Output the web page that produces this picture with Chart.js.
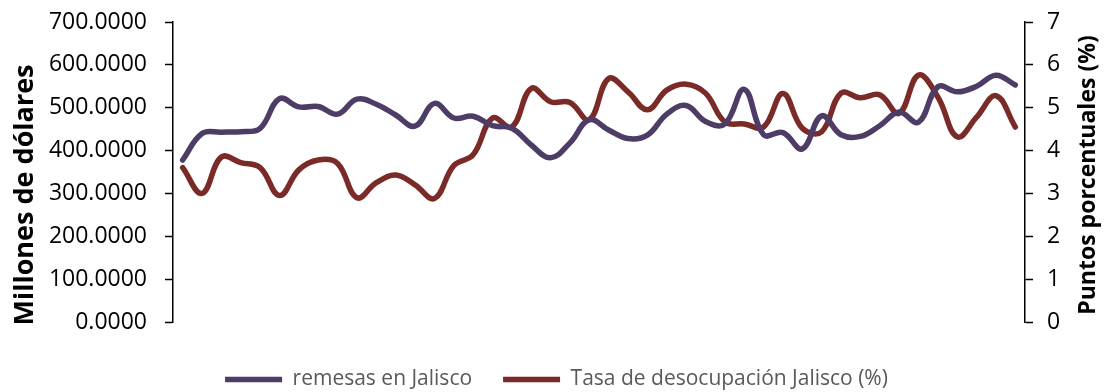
<!DOCTYPE html>
<html lang="es">
<head>
<meta charset="utf-8">
<title>Remesas y desocupación en Jalisco</title>
<script src="https://cdn.jsdelivr.net/npm/chart.js@4/dist/chart.umd.min.js"></script>
<style>
    html, body { margin: 0; padding: 0; background: #ffffff; }
    #wrap { width: 1106px; height: 392px; }
</style>
</head>
<body>
<div id="wrap"><canvas id="grafica" width="1106" height="392"></canvas></div>
<script>
// trimestres (no se muestran en el eje)
var periodos = [];
for (var anio = 2005; anio <= 2015; anio++) {
    ['T1', 'T2', 'T3', 'T4'].forEach(function (t) { periodos.push(t + ' ' + anio); });
}

// remesas en Jalisco (millones de dólares)
var remesas = [378, 440, 443, 444, 452, 521, 502, 503, 485, 520, 508, 483, 457, 510, 476,
    480, 458, 452, 413, 383, 418, 472, 448, 428, 436, 485, 505, 468, 462, 543,
    437, 442, 404, 481, 437, 433, 458, 490, 466, 549, 537, 550, 576, 553];

// tasa de desocupación Jalisco (%)
var desocupacion = [3.6, 3.0, 3.85, 3.72, 3.6, 2.95, 3.55, 3.78, 3.7, 2.9, 3.25, 3.43, 3.2, 2.88, 3.65,
    3.9, 4.76, 4.55, 5.45, 5.14, 5.12, 4.72, 5.68, 5.37, 4.95, 5.41, 5.55, 5.34, 4.67, 4.62,
    4.55, 5.33, 4.52, 4.44, 5.34, 5.23, 5.3, 4.87, 5.76, 5.25, 4.32, 4.78, 5.28, 4.55];

var ticksIzq = [0, 100, 200, 300, 400, 500, 600, 700];
var ticksDer = [0, 1, 2, 3, 4, 5, 6, 7];

var tituloIzq = 'Millones de dólares';
var tituloDer = 'Puntos porcentuales (%)';

var fuente = "'Open Sans', sans-serif";

// títulos de los ejes, los dos girados hacia arriba como en Excel
var titulosEjes = {
    id: 'titulosEjes',
    afterDraw: function (chart) {
        var c = chart.ctx;
        var area = chart.chartArea;
        var medio = (area.top + area.bottom) / 2;
        c.save();
        c.fillStyle = '#000000';
        c.textAlign = 'center';
        c.textBaseline = 'middle';

        c.save();
        c.translate(chart.scales.y.left + 18, medio + 23);
        c.rotate(-Math.PI / 2);
        c.font = 'bold 27px ' + fuente;
        c.fillText(tituloIzq, 0, 0);
        c.restore();

        c.save();
        c.translate(chart.scales.y1.right - 18, medio + 3);
        c.rotate(-Math.PI / 2);
        c.font = 'bold 23px ' + fuente;
        c.fillText(tituloDer, 0, 0);
        c.restore();

        c.restore();
    }
};

// ancho fijo del eje y sin relleno extra arriba/abajo
function ajustarEje(ancho) {
    return function (escala) {
        escala.width = ancho;
        escala.paddingTop = 0;
        escala.paddingBottom = 0;
    };
}

document.addEventListener('DOMContentLoaded', function () {
    var ctx = document.getElementById('grafica').getContext('2d');

    new Chart(ctx, {
        type: 'line',
        data: {
            labels: periodos,
            datasets: [{
                label: 'remesas en Jalisco',
                data: remesas,
                yAxisID: 'y',
                borderColor: '#4d3d66',
                backgroundColor: '#4d3d66',
                borderWidth: 5.5,
                borderCapStyle: 'round',
                pointRadius: 0,
                tension: 0.4
            }, {
                label: 'Tasa de desocupación Jalisco (%)',
                data: desocupacion,
                yAxisID: 'y1',
                borderColor: '#7a2b28',
                backgroundColor: '#7a2b28',
                borderWidth: 5.5,
                borderCapStyle: 'round',
                pointRadius: 0,
                tension: 0.4
            }]
        },
        plugins: [titulosEjes],
        options: {
            responsive: false,
            animation: false,
            layout: { padding: { left: 7, right: 0, top: 22, bottom: 0 } },
            plugins: {
                tooltip: { enabled: false },
                legend: {
                    position: 'bottom',
                    maxHeight: 54,
                    labels: {
                        usePointStyle: true,
                        pointStyle: 'line',
                        pointStyleWidth: 57,
                        padding: 31,
                        color: '#595959',
                        font: { family: fuente, size: 21 }
                    }
                }
            },
            scales: {
                x: {
                    offset: true,
                    grid: { display: false },
                    border: { display: false },
                    ticks: { display: false },
                    afterFit: function (escala) { escala.height = 16; }
                },
                y: {
                    position: 'left',
                    min: 0,
                    max: 700,
                    afterBuildTicks: function (escala) {
                        escala.ticks = ticksIzq.map(function (v) { return { value: v }; });
                    },
                    afterFit: ajustarEje(166),
                    grid: { drawOnChartArea: false, drawTicks: true, tickLength: 8, tickColor: '#000000', tickWidth: 1.5 },
                    border: { display: true, color: '#000000', width: 1.5 },
                    ticks: {
                        padding: 18,
                        color: '#000000',
                        font: { family: fuente, size: 23 },
                        callback: function (v) { return Number(v).toFixed(4); }
                    }
                },
                y1: {
                    position: 'right',
                    min: 0,
                    max: 7,
                    afterBuildTicks: function (escala) {
                        escala.ticks = ticksDer.map(function (v) { return { value: v }; });
                    },
                    afterFit: ajustarEje(81),
                    grid: { drawOnChartArea: false, drawTicks: true, tickLength: 8, tickColor: '#000000', tickWidth: 1.5 },
                    border: { display: true, color: '#000000', width: 1.5 },
                    ticks: {
                        padding: 14,
                        color: '#000000',
                        font: { family: fuente, size: 23 }
                    }
                }
            }
        }
    });
});
</script>
</body>
</html>
